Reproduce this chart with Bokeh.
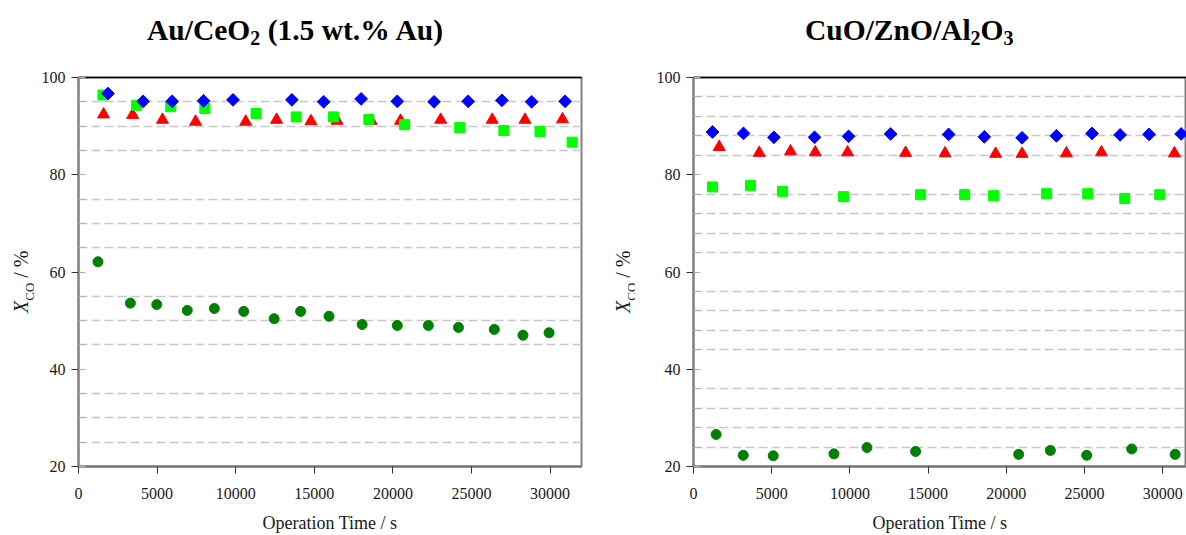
import math
from bokeh.plotting import figure
from bokeh.models import Range1d, SingleIntervalTicker, FixedTicker, Grid, Div, LinearAxis
from bokeh.layouts import row, column
from bokeh.embed import file_html
from bokeh.resources import INLINE

# ---------------- data: Au/CeO2 (1.5 wt.% Au) ----------------
au_blue_t = [1877, 4111, 5962, 7960, 9830, 13577, 15600, 17981, 20279, 22621, 24791, 26936, 28831, 30957]
au_blue_x = [96.7, 95.1, 95.1, 95.2, 95.4, 95.4, 95.0, 95.6, 95.1, 95.0, 95.1, 95.3, 95.0, 95.1]
au_red_t = [1596, 3447, 5342, 7449, 10640, 12600, 14789, 16449, 18619, 20489, 23042, 26323, 28404, 30791]
au_red_x = [92.4, 92.3, 91.3, 90.9, 90.9, 91.3, 91.0, 91.1, 91.1, 91.1, 91.3, 91.3, 91.3, 91.4]
au_lime_t = [1557, 3702, 5872, 8042, 11298, 13851, 16213, 18472, 20744, 24255, 27063, 29361, 31404]
au_lime_x = [96.4, 94.3, 94.0, 93.6, 92.6, 91.9, 91.9, 91.4, 90.3, 89.7, 89.1, 88.9, 86.7]
au_dark_t = [1238, 3300, 4979, 6919, 8642, 10513, 12447, 14131, 15938, 18044, 20279, 22257, 24172, 26451, 28277, 29936]
au_dark_x = [62.1, 53.6, 53.3, 52.1, 52.5, 51.9, 50.4, 51.9, 50.9, 49.2, 49.0, 49.0, 48.6, 48.2, 47.0, 47.5]

# ---------------- data: CuO/ZnO/Al2O3 ----------------
cu_blue_t = [1215, 3198, 5143, 7740, 9915, 12602, 16312, 18595, 21007, 23201, 25484, 27275, 29130, 31177]
cu_blue_x = [88.8, 88.5, 87.7, 87.7, 87.9, 88.4, 88.3, 87.8, 87.6, 88.0, 88.5, 88.2, 88.3, 88.4]
cu_red_t = [1644, 4203, 6205, 7785, 9851, 13561, 16082, 19318, 21007, 23841, 26080, 30749]
cu_red_x = [85.7, 84.5, 84.8, 84.6, 84.6, 84.5, 84.4, 84.3, 84.3, 84.4, 84.6, 84.4]
cu_lime_t = [1215, 3646, 5693, 9595, 14521, 17335, 19190, 22581, 25203, 27570, 29809]
cu_lime_x = [77.5, 77.8, 76.6, 75.5, 75.9, 75.9, 75.7, 76.1, 76.1, 75.1, 75.9]
cu_dark_t = [1446, 3179, 5098, 8981, 11092, 14201, 20789, 22817, 25139, 28017, 30793]
cu_dark_x = [26.6, 22.3, 22.2, 22.6, 23.9, 23.1, 22.5, 23.3, 22.3, 23.6, 22.5]

x_ticks = [0, 5000, 10000, 15000, 20000, 25000, 30000]
au_grid = [25, 30, 35, 45, 50, 55, 65, 70, 75, 85, 90, 95]
cu_grid = [24, 28, 32, 36, 44, 48, 52, 56, 64, 68, 72, 76, 84, 88, 92, 96]

SERIF = "Liberation Serif"
TITLE_H = 60
FIG_H = 535 - TITLE_H


def make_fig(width, min_left, min_right, x_end, grid_ticks, minor_n, series):
    p = figure(width=width, height=FIG_H, output_backend="svg", toolbar_location=None,
               x_range=Range1d(0, x_end), y_range=Range1d(20, 100),
               min_border_left=min_left, min_border_right=min_right,
               min_border_top=77 - TITLE_H, min_border_bottom=69)
    p.xgrid.visible = False
    p.ygrid.visible = False
    p.background_fill_color = "white"
    p.border_fill_color = "white"
    p.outline_line_color = "#808080"
    p.outline_line_width = 2

    g = Grid(dimension=1, ticker=FixedTicker(ticks=grid_ticks), grid_line_color="#c8c8c8",
             grid_line_dash="9 4", grid_line_width=1.5)
    p.add_layout(g)

    xa = p.below[0]
    xa.ticker = FixedTicker(ticks=x_ticks)
    xa.axis_line_color = "#707070"
    xa.axis_line_width = 2
    xa.major_tick_out = 7
    xa.major_tick_in = 0
    xa.major_tick_line_color = "#333333"
    xa.minor_tick_line_color = None
    xa.major_label_text_font = SERIF
    xa.major_label_text_font_size = "16px"
    xa.major_label_text_color = "#1a1a1a"
    xa.major_label_standoff = 14
    xa.axis_label = "Operation Time / s"
    xa.axis_label_text_font = SERIF
    xa.axis_label_text_font_size = "18px"
    xa.axis_label_text_font_style = "normal"
    xa.axis_label_text_color = "#1a1a1a"
    xa.axis_label_standoff = 11

    ya = p.left[0]
    ya.ticker = SingleIntervalTicker(interval=20, num_minor_ticks=minor_n)
    ya.axis_line_color = "#808080"
    ya.axis_line_width = 2
    ya.major_tick_out = 7
    ya.major_tick_in = 0
    ya.major_tick_line_color = "#333333"
    ya.minor_tick_in = 7
    ya.minor_tick_out = 0
    ya.minor_tick_line_color = "#b0b0b0"
    ya.major_label_text_font = SERIF
    ya.major_label_text_font_size = "16px"
    ya.major_label_text_color = "#1a1a1a"
    ya.major_label_standoff = 6

    top = LinearAxis(ticker=FixedTicker(ticks=[]), axis_line_color="black", axis_line_width=1.5,
                     major_tick_line_color=None, minor_tick_line_color=None)
    p.add_layout(top, "above")

    dt, dx, rt, rx, lt, lx, bt, bx = series
    p.scatter(dt, dx, marker="circle", size=10, fill_color="#008000", line_color="#008000")
    p.scatter(rt, rx, marker="triangle", size=12, fill_color="#ff0000", line_color="#ff0000")
    p.scatter(lt, lx, marker="square", size=10, fill_color="#00ff00", line_color="#00ff00")
    p.scatter(bt, bx, marker="square", size=9, angle=math.pi / 4, fill_color="#0000ff", line_color="#0000ff")
    return p


def title_div(html, left, width):
    return Div(text=(
        f'<div style="position:absolute; left:{left}px; top:15px; white-space:nowrap; '
        f"font-family:'{SERIF}'; font-weight:bold; font-size:29.5px; line-height:30px; "
        f'color:#000;">{html}</div>'), width=width, height=TITLE_H, margin=0,
        styles={"overflow": "visible"})


def ylabel_div(left, width):
    html = ('<i>X</i><span style="font-size:13px; vertical-align:-6px;">CO</span> / %')
    return Div(text=(
        f'<div style="position:absolute; left:{left}px; top:{313 - TITLE_H}px; '
        f'transform:rotate(-90deg); transform-origin:0 0; white-space:nowrap; '
        f"font-family:'{SERIF}'; font-size:20px; line-height:20px; color:#1a1a1a;\">{html}</div>"),
        width=width, height=FIG_H, margin=0, styles={"overflow": "visible"})


SUB = '<span style="font-size:20px; vertical-align:-5px;">{}</span>'
t1 = title_div("Au/CeO" + SUB.format("2") + " (1.5 wt.% Au)", 147, 600)
t2 = title_div("CuO/ZnO/Al" + SUB.format("2") + "O" + SUB.format("3"), 205, 586)

p1 = make_fig(566, 44, 19, 32000, au_grid, 4,
              (au_dark_t, au_dark_x, au_red_t, au_red_x, au_lime_t, au_lime_x, au_blue_t, au_blue_x))
p2 = make_fig(552, 59, 0, 31520, cu_grid, 5,
              (cu_dark_t, cu_dark_x, cu_red_t, cu_red_x, cu_lime_t, cu_lime_x, cu_blue_t, cu_blue_x))

d1 = ylabel_div(11, 34)
d2 = ylabel_div(13, 34)

layout = column(row(t1, t2, spacing=0), row(d1, p1, d2, p2, spacing=0), spacing=0)
open("out.html", "w").write(file_html(layout, INLINE))
